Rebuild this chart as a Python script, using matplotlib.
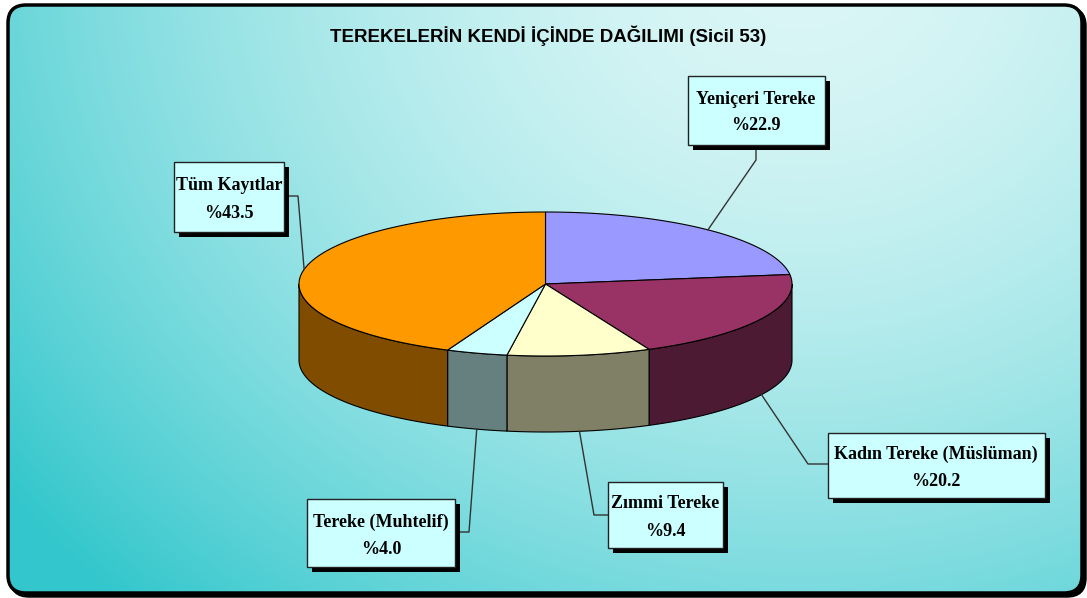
# Terekelerin kendi içinde dağılımı - 3B pasta grafiği
import numpy as np
import matplotlib.pyplot as plt
from matplotlib.patches import Polygon, Rectangle, FancyBboxPatch

# Veriler
etiketler = ["Yeniçeri Tereke", "Kadın Tereke (Müslüman)", "Zımmi Tereke",
             "Tereke (Muhtelif)", "Tüm Kayıtlar"]
oranlar = [22.9, 20.2, 9.4, 4.0, 43.5]
baslik = "TEREKELERİN KENDİ İÇİNDE DAĞILIMI (Sicil 53)"

ust_renk = ["#9999FF", "#993366", "#FFFFCC", "#CCFFFF", "#FF9900"]
yan_renk = ["#4C4C80", "#4D1A33", "#808066", "#668080", "#804D00"]

# Etiket kutuları: merkez, genişlik, yükseklik, kırılma noktası (piksel)
kutular = [
    ((756, 110), 137, 69, (756, 160)),
    ((936, 465), 217, 65, (808, 464)),
    ((665, 515), 115, 66, (594, 515)),
    ((381, 533), 148, 68, (469, 532)),
    ((229, 197), 110, 70, (298, 196)),
]

W, H = 1087, 598
fig = plt.figure(figsize=(W / 100, H / 100), dpi=100)
ax = fig.add_axes([0, 0, 1, 1])
ax.set_xlim(0, W)
ax.set_ylim(H, 0)
ax.axis("off")

# Çerçeve ve gölgesi
golge = FancyBboxPatch((11, 8), 1074, 588, boxstyle="round,pad=0,rounding_size=18",
                       fc="black", ec="black", lw=2.5, zorder=0)
ax.add_patch(golge)
cerceve = FancyBboxPatch((8, 5), 1074, 588, boxstyle="round,pad=0,rounding_size=18",
                         fc="none", ec="black", lw=2.5, zorder=3)
ax.add_patch(cerceve)

# Degrade arka plan
yy, xx = np.mgrid[0:H, 0:W]
d = np.hypot(xx - 800, (yy + 40) * 1.15) / 1000
t = np.clip(d, 0, 1) ** 1.7
acik = np.array([0.86, 0.965, 0.965])
koyu = np.array([0.20, 0.78, 0.80])
img = acik[None, None, :] * (1 - t[..., None]) + koyu[None, None, :] * t[..., None]
im = ax.imshow(img, extent=[0, W, H, 0], zorder=1, interpolation="bilinear")
clip = FancyBboxPatch((8, 5), 1074, 588, boxstyle="round,pad=0,rounding_size=18",
                      fc="none", ec="none", transform=ax.transData)
ax.add_patch(clip)
im.set_clip_path(clip)
ax.set_xlim(0, W)
ax.set_ylim(H, 0)

# Pasta geometrisi
cx, cy, rx, ry, derinlik = 545.5, 284, 246.5, 72, 76

def nokta(a, dy=0):
    r = np.radians(a)
    return cx + rx * np.cos(r), cy - ry * np.sin(r) + dy

toplam = sum(oranlar)
baslangic = 90.0
dilimler = []
for o in oranlar:
    bitis = baslangic - o / toplam * 360
    dilimler.append((baslangic, bitis))
    baslangic = bitis

# Yan yüzeyler (ön yarı)
for (a0, a1), renk in zip(dilimler, yan_renk):
    hi = min(a0, 0)
    lo = max(a1, -180)
    if hi <= lo:
        continue
    aa = np.linspace(hi, lo, 80)
    ust = [nokta(a) for a in aa]
    alt = [nokta(a, derinlik) for a in aa[::-1]]
    ax.add_patch(Polygon(ust + alt, closed=True, fc=renk, ec="black", lw=0.8, zorder=4))

# Üst yüzeyler
for (a0, a1), renk in zip(dilimler, ust_renk):
    aa = np.linspace(a0, a1, 150)
    pts = [(cx, cy)] + [nokta(a) for a in aa]
    ax.add_patch(Polygon(pts, closed=True, fc=renk, ec="black", lw=0.8, zorder=5))

# Etiketler
for (a0, a1), ad, o, (merkez, w, h, kirilma) in zip(dilimler, etiketler, oranlar, kutular):
    orta = (a0 + a1) / 2
    if np.sin(np.radians(orta)) > 0:
        ucx, ucy = nokta(orta)
    else:
        ucx, ucy = nokta(orta, derinlik)
    mx, my = merkez
    # kutu kenarındaki bağlantı noktası
    kx, ky = kirilma
    if abs(kx - mx) <= w / 2:
        bx, by = kx, my + h / 2
    elif kx > mx:
        bx, by = mx + w / 2, ky
    else:
        bx, by = mx - w / 2, ky
    ax.plot([bx, kx, ucx], [by, ky, ucy], color="#333333", lw=1, zorder=6)
    ax.add_patch(Rectangle((mx - w / 2 + 5, my - h / 2 + 5), w, h, fc="black", ec="none", zorder=7))
    ax.add_patch(Rectangle((mx - w / 2, my - h / 2), w, h, fc="#CCFFFF", ec="#222222", lw=1, zorder=8))
    ax.text(mx, my - 11, ad, ha="center", va="center", fontsize=13, fontweight="bold",
            family="Liberation Serif", zorder=9)
    ax.text(mx, my + 16, f"%{o:.1f}", ha="center", va="center", fontsize=13, fontweight="bold",
            family="Liberation Serif", zorder=9)

ax.text(548, 36, baslik, ha="center", va="center", fontsize=13.5, fontweight="bold",
        family="Liberation Sans", zorder=9)

fig.savefig("out.png", dpi=100)
